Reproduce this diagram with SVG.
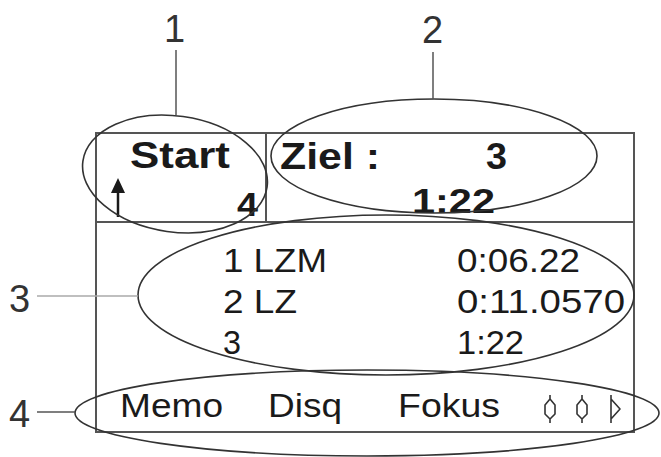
<svg xmlns="http://www.w3.org/2000/svg" width="661" height="457" viewBox="0 0 661 457">
<style>
.frame{fill:none;stroke:#555;stroke-width:2}
.ell{fill:none;stroke:#333;stroke-width:1.6}
.lead{fill:none;stroke:#555;stroke-width:1.5}
.b{font-family:"Liberation Sans",Arial,sans-serif;font-weight:bold;fill:#1a1a1a}
.r{font-family:"Liberation Sans",Arial,sans-serif;fill:#1a1a1a}
.lbl{font-family:"Liberation Sans",Arial,sans-serif;fill:#333;font-size:38px}
.sym{fill:none;stroke:#333;stroke-width:1.6;stroke-linejoin:round}
</style>
<rect width="661" height="457" fill="#fff"/>
<g id="display">
<rect class="frame" x="96" y="133" width="538" height="299"/>
<line class="frame" x1="96" y1="222" x2="634" y2="222"/>
<line class="frame" x1="266" y1="133" x2="266" y2="222"/>
</g>
<g id="start-cell">
<text class="b" x="130" y="168" font-size="36" textLength="100" lengthAdjust="spacingAndGlyphs">Start</text>
<text class="b" x="237" y="216" font-size="34" textLength="21" lengthAdjust="spacingAndGlyphs">4</text>
<line x1="118" y1="188" x2="118" y2="217" stroke="#1a1a1a" stroke-width="2.5"/>
<polygon points="118,178 111,193 125,193" fill="#1a1a1a"/>
</g>
<g id="ziel-cell">
<text class="b" x="280" y="169" font-size="37" textLength="100" lengthAdjust="spacingAndGlyphs">Ziel :</text>
<text class="b" x="486" y="169" font-size="37" textLength="21" lengthAdjust="spacingAndGlyphs">3</text>
<text class="b" x="412" y="213" font-size="35" textLength="83" lengthAdjust="spacingAndGlyphs">1:22</text>
</g>
<g id="results">
<text class="r" x="223" y="272" font-size="34" textLength="104" lengthAdjust="spacingAndGlyphs">1 LZM</text>
<text class="r" x="223" y="313" font-size="34" textLength="74" lengthAdjust="spacingAndGlyphs">2 LZ</text>
<text class="r" x="223" y="354" font-size="34" textLength="18" lengthAdjust="spacingAndGlyphs">3</text>
<text class="r" x="457" y="272" font-size="34" textLength="123" lengthAdjust="spacingAndGlyphs">0:06.22</text>
<text class="r" x="457" y="313" font-size="34" textLength="168" lengthAdjust="spacingAndGlyphs">0:11.0570</text>
<text class="r" x="457" y="354" font-size="34" textLength="67" lengthAdjust="spacingAndGlyphs">1:22</text>
</g>
<g id="softkeys">
<text class="r" x="120" y="417" font-size="33" textLength="103" lengthAdjust="spacingAndGlyphs">Memo</text>
<text class="r" x="268" y="417" font-size="33" textLength="74" lengthAdjust="spacingAndGlyphs">Disq</text>
<text class="r" x="398" y="417" font-size="33" textLength="102" lengthAdjust="spacingAndGlyphs">Fokus</text>
<path class="sym" d="M550,395 L550,399 L555,405 L555,414 L550,419 L550,423 M550,399 L545,405 L545,414 L550,419"/>
<path class="sym" d="M582,395 L582,399 L587,405 L587,414 L582,419 L582,423 M582,399 L577,405 L577,414 L582,419"/>
<path class="sym" d="M611,395 L611,399 L620,409 L611,419 L611,423 M611,399 L611,419"/>
</g>
<g id="connectors">
<ellipse class="ell" cx="175" cy="174" rx="93" ry="58" transform="rotate(8 175 174)"/>
<ellipse class="ell" cx="434" cy="156" rx="163" ry="57"/>
<ellipse class="ell" cx="386" cy="295" rx="248" ry="80"/>
<ellipse class="ell" cx="367" cy="413" rx="292" ry="43"/>
<line class="lead" x1="176" y1="50" x2="176" y2="115"/>
<line class="lead" x1="433" y1="52" x2="433" y2="99"/>
<line x1="37" y1="296" x2="138" y2="296" stroke="#aaa" stroke-width="1.3"/>
<line class="lead" x1="37" y1="412" x2="75" y2="412"/>
</g>
<g id="labels">
<text class="lbl" x="164" y="42">1</text>
<text class="lbl" x="422" y="43">2</text>
<text class="lbl" x="9" y="312">3</text>
<text class="lbl" x="9" y="427">4</text>
</g>
</svg>
